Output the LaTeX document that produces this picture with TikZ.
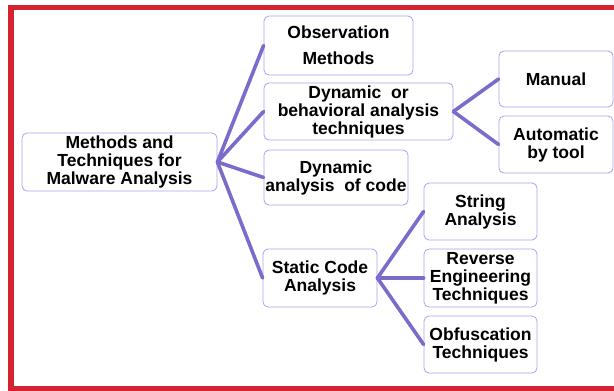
\documentclass[tikz,border=0pt]{standalone}
\usepackage{fontspec}
\setmainfont{Liberation Sans}
\usepackage{tikz}
\usetikzlibrary{positioning}

\definecolor{framered}{HTML}{D42231}
\definecolor{branch}{HTML}{7B6CCB}
\definecolor{boxedge}{HTML}{AAA2F2}

\tikzset{
    topic/.style={draw=boxedge, line width=0.8pt, rounded corners=5pt, fill=white,
        align=center, inner sep=0pt, font=\fontsize{17.5}{18}\selectfont\bfseries},
    branchline/.style={draw=branch, line width=3.6pt, line cap=round}
}

\begin{document}
\begin{tikzpicture}[x=1pt, y=-1pt]
            \useasboundingbox (0,0) rectangle (614,391);
            \clip (0,0) rectangle (614,391);
            \draw[framered, line width=5.5pt] (640,7.5) -- (11,7.5) -- (11,388.5) -- (640,388.5);

            % boxes
            \node[topic, minimum width=195pt, minimum height=58pt] (root) at (119.5,162) {Methods and\\Techniques for\\Malware Analysis};
            \node[topic, minimum width=149pt, minimum height=59pt, font=\fontsize{17.5}{26}\selectfont\bfseries] (obs) at (338.5,45.5) {Observation\\Methods};
            \node[topic, minimum width=189pt, minimum height=57pt] (dyn) at (358.5,111.5) {Dynamic\ \ or\\behavioral analysis\\techniques};
            \node[topic, minimum width=144pt, minimum height=55pt] (dcode) at (336,177.5) {Dynamic\\analysis\ \ of code};
            \node[topic, minimum width=114pt, minimum height=58pt] (static) at (320,278) {Static Code\\Analysis};
            \node[topic, minimum width=114pt, minimum height=56pt] (manual) at (556,79) {Manual};
            \node[topic, minimum width=114pt, minimum height=57pt] (auto) at (556,144.5) {Automatic\\by tool};
            \node[topic, minimum width=113pt, minimum height=57pt] (string) at (480.5,211.5) {String\\Analysis};
            \node[topic, minimum width=113pt, minimum height=58pt] (reverse) at (480.5,278) {Reverse\\Engineering\\Techniques};
            \node[topic, minimum width=113pt, minimum height=57pt] (obf) at (480.5,344.5) {Obfuscation\\Techniques};

            % branches
            \foreach \child in {obs, dyn, dcode, static}
                \draw[branchline] (root.east) -- (\child.west);
            \foreach \child in {manual, auto}
                \draw[branchline] (dyn.east) -- (\child.west);
            \foreach \child in {string, reverse, obf}
                \draw[branchline] (static.east) -- (\child.west);
        \end{tikzpicture}
\end{document}
